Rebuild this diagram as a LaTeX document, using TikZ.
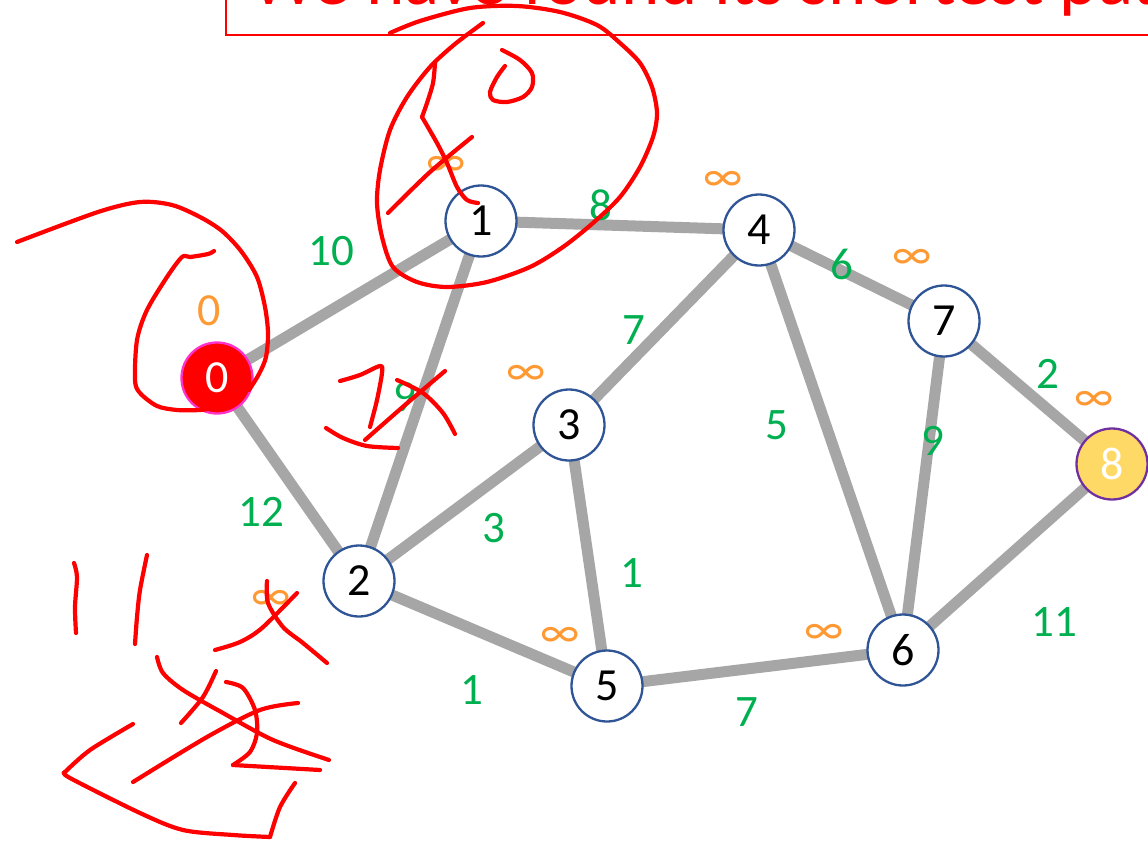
\documentclass[tikz,border=0pt]{standalone}
\usepackage{fontspec}
\setmainfont{Carlito}
\definecolor{edgegray}{HTML}{A6A6A6}
\definecolor{nodeblue}{HTML}{2F5597}
\definecolor{wgreen}{HTML}{00B050}
\definecolor{dorange}{HTML}{FF9933}
\definecolor{srcred}{HTML}{FF0000}
\definecolor{srcrim}{HTML}{FF33CC}
\definecolor{goalfill}{HTML}{FFD966}
\definecolor{goalrim}{HTML}{7030A0}
\begin{document}
\begin{tikzpicture}[x=1pt,y=-1pt,
  vertex/.style={circle, draw=nodeblue, line width=2.3pt, fill=white,
    minimum size=71pt, inner sep=0pt, font=\fontsize{46}{46}\selectfont},
  link/.style={draw=edgegray, line width=11pt},
  wlabel/.style={text=wgreen, font=\fontsize{45}{45}\selectfont, inner sep=0pt},
  dist/.style={text=dorange, font=\fontsize{46}{46}\selectfont, inner sep=0pt},
  ink/.style={draw=red, line width=4.2pt, line cap=round, line join=round}]
\useasboundingbox (0,0) rectangle (1148,843);
\fill[white] (0,0) rectangle (1148,843);

% header box
\draw[red, line width=1.6pt] (226,-40) rectangle (1170,35);
\node[anchor=base west, text=red, font=\fontsize{73}{73}\selectfont, inner sep=0pt]
  (title) at (251,5) {We have found its shortest path};

% vertex positions
\coordinate (p0) at (217,378);
\coordinate (p1) at (481,221);
\coordinate (p2) at (359,581);
\coordinate (p3) at (569,425);
\coordinate (p4) at (759,230);
\coordinate (p5) at (607,686);
\coordinate (p6) at (903,650);
\coordinate (p7) at (944,321);
\coordinate (p8) at (1112,464);

% edges
\foreach \a/\b in {p0/p1, p0/p2, p1/p2, p1/p4, p2/p3, p2/p5, p3/p4, p3/p5,
                   p4/p6, p4/p7, p7/p6, p7/p8, p5/p6, p6/p8}
  \draw[link] (\a) -- (\b);

% vertices
\node[vertex, fill=srcred, draw=srcrim, text=white] (n0) at (p0) {0};
\node[vertex] (n1) at (p1) {1};
\node[vertex] (n2) at (p2) {2};
\node[vertex] (n3) at (p3) {3};
\node[vertex] (n4) at (p4) {4};
\node[vertex] (n5) at (p5) {5};
\node[vertex] (n6) at (p6) {6};
\node[vertex] (n7) at (p7) {7};
\node[vertex, fill=goalfill, draw=goalrim, text=white] (n8) at (p8) {8};

% edge weights
\node[wlabel] (w01) at (331,251) {10};
\node[wlabel] (w14) at (601,205) {8};
\node[wlabel] (w34) at (634,330) {7};
\node[wlabel] (w47) at (842,264) {6};
\node[wlabel] (w78) at (1048,374) {2};
\node[wlabel] (w12) at (405,397) {9};
\node[wlabel] (w02) at (261,512) {12};
\node[wlabel] (w23) at (494,528) {3};
\node[wlabel] (w46) at (777,425) {5};
\node[wlabel] (w76) at (933,441) {9};
\node[wlabel] (w35) at (632,573) {1};
\node[wlabel] (w25) at (472,690) {1};
\node[wlabel] (w56) at (747,712) {7};
\node[wlabel] (w68) at (1054,622) {11};

% tentative distances
\node[dist] (d0) at (209,311) {0};
\node[dist] (d1) at (446,166) {∞};
\node[dist] (d4) at (723,181) {∞};
\node[dist] (d7) at (912,259) {∞};
\node[dist] (d8) at (1094,401) {∞};
\node[dist] (d3) at (526,375) {∞};
\node[dist] (d2) at (271,600) {∞};
\node[dist] (d5) at (560,637) {∞};
\node[dist] (d6) at (824,634) {∞};

% handwritten marks
% loop around vertex 0
\draw[ink] plot[smooth] coordinates {(17,242) (98,212) (140,202) (172,205) (200,217)
  (222,231) (241,251) (257,277) (265,307) (268,333) (266,357) (259,374) (249,390)};
\draw[ink] plot[smooth] coordinates {(214,251) (208,254) (190,257) (182,257) (167,277)
  (147,310) (137,340) (135,380) (140,393) (157,406) (177,410) (200,410) (213,408)};
% loop around vertex 1
\draw[ink] plot[smooth] coordinates {(390,33) (420,21) (470,8) (517,6) (560,12) (597,25)
  (620,43) (640,63) (652,87) (657,113) (653,137) (640,167) (620,197) (593,223)
  (563,247) (530,267) (487,282) (447,287) (417,282) (393,267) (382,237) (377,203)
  (380,170) (390,130) (407,97) (430,67) (455,44) (483,23)};
% "10" written inside it
\draw[ink] plot[smooth] coordinates {(435,63) (433,83) (427,103) (422,117)};
\draw[ink] plot[smooth] coordinates {(422,117) (437,143) (447,163) (457,187) (467,200) (478,203)};
\draw[ink] plot[smooth] coordinates {(502,50) (520,60) (532,73) (532,87) (523,97) (507,102)
  (493,100) (490,92) (497,77) (505,66)};
\draw[ink] plot[smooth] coordinates {(472,137) (430,172) (388,213)};
% "19" crossed out on edge 1-2
\draw[ink] plot[smooth] coordinates {(340,381) (360,375) (380,366) (382,373) (377,400) (370,427)};
\draw[ink] plot[smooth] coordinates {(326,428) (343,438) (367,446) (398,448)};
\draw[ink] plot[smooth] coordinates {(445,371) (405,405) (365,440)};
\draw[ink] plot[smooth] coordinates {(397,380) (423,393) (443,413) (455,434)};
% scribbles near vertex 2
\draw[ink] plot[smooth] coordinates {(74,563) (77,577) (75,607) (76,633)};
\draw[ink] plot[smooth] coordinates {(147,555) (140,590) (137,617) (135,644)};
\draw[ink] plot[smooth] coordinates {(215,650) (240,642) (262,628) (297,593)};
\draw[ink] plot[smooth] coordinates {(267,581) (268,603) (283,627) (303,643) (327,663)};
\draw[ink] plot[smooth] coordinates {(157,657) (163,673) (183,690) (223,713) (273,740) (329,760)};
\draw[ink] plot[smooth] coordinates {(216,671) (203,697) (181,723)};
\draw[ink] plot[smooth] coordinates {(226,682) (243,688) (255,710) (257,733) (250,752) (233,765)};
\draw[ink] (233,765) -- (320,770);
\draw[ink] plot[smooth] coordinates {(298,703) (260,710) (207,737) (133,782)};
\draw[ink] plot[smooth] coordinates {(133,724) (90,750) (65,772)};
\draw[ink] plot[smooth] coordinates {(65,772) (70,778) (140,813) (183,830) (233,835) (270,837)};
\draw[ink] plot[smooth] coordinates {(270,837) (280,807) (295,783)};
\end{tikzpicture}
\end{document}
